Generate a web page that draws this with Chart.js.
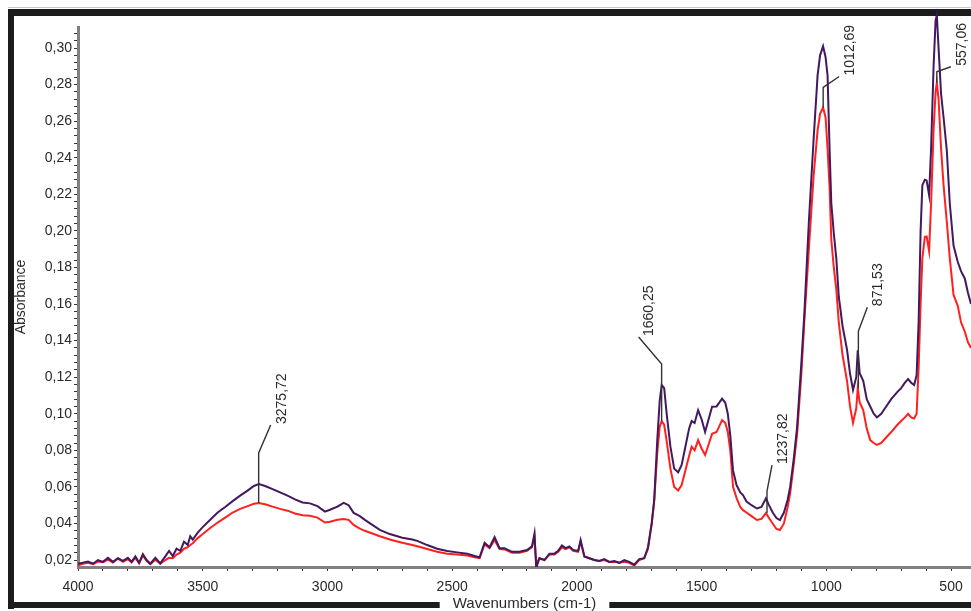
<!DOCTYPE html>
<html>
<head>
<meta charset="utf-8">
<script src="https://cdn.jsdelivr.net/npm/chart.js@4.4.1/dist/chart.umd.min.js"></script>
<style>
  html, body { margin: 0; padding: 0; background: #fff; overflow: hidden; }
  #wrap { width: 971px; height: 611px; }
</style>
</head>
<body>
<div id="wrap"><canvas id="spectrum"></canvas></div>
<script>
// wavenumbers (cm-1), shared by both spectra
const wavenumbers = [
  4000, 3980, 3960, 3940, 3920, 3900, 3880, 3860, 3840, 3820,
  3800, 3785, 3770, 3755, 3740, 3725, 3710, 3690, 3670, 3650,
  3635, 3620, 3605, 3590, 3575, 3560, 3550, 3540, 3520, 3500,
  3470, 3440, 3410, 3380, 3350, 3320, 3295, 3275, 3250, 3220,
  3190, 3160, 3130, 3100, 3070, 3040, 3010, 2990, 2960, 2935,
  2915, 2895, 2870, 2850, 2820, 2790, 2750, 2700, 2660, 2640,
  2600, 2560, 2520, 2480, 2440, 2410, 2390, 2370, 2350, 2330,
  2310, 2290, 2260, 2230, 2200, 2180, 2170, 2163, 2150, 2130,
  2110, 2090, 2075, 2060, 2045, 2030, 2015, 1995, 1985, 1970,
  1950, 1930, 1910, 1890, 1870, 1850, 1830, 1810, 1790, 1770,
  1750, 1730, 1715, 1700, 1690, 1678, 1668, 1660, 1650, 1640,
  1625, 1610, 1594, 1580, 1565, 1550, 1540, 1528, 1514, 1500,
  1486, 1470, 1458, 1440, 1418, 1405, 1395, 1385, 1374, 1360,
  1345, 1334, 1320, 1300, 1278, 1260, 1242, 1230, 1215, 1200,
  1186, 1170, 1155, 1145, 1130, 1117, 1100, 1088, 1070, 1051,
  1035, 1025, 1013, 1003, 995, 987, 980, 970, 960, 950,
  935, 917, 905, 893, 880, 874, 866, 852, 838, 824,
  810, 797, 780, 760, 740, 715, 700, 685, 672, 660,
  648, 638, 630, 622, 615, 605, 598, 588, 580, 570,
  562, 557, 550, 540, 530, 517, 505, 490, 473, 460,
  445, 432, 420
];

// upper (purple) spectrum
const absorbanceA = [
  0.0180, 0.0186, 0.0192, 0.0180, 0.0200, 0.0190, 0.0212, 0.0190, 0.0210, 0.0195,
  0.0212, 0.0190, 0.0220, 0.0185, 0.0232, 0.0200, 0.0180, 0.0212, 0.0182, 0.0220,
  0.0250, 0.0222, 0.0262, 0.0250, 0.0300, 0.0282, 0.0330, 0.0312, 0.0350, 0.0380,
  0.0420, 0.0460, 0.0490, 0.0522, 0.0552, 0.0580, 0.0605, 0.0615, 0.0605, 0.0588,
  0.0570, 0.0552, 0.0532, 0.0515, 0.0510, 0.0495, 0.0465, 0.0475, 0.0492, 0.0513,
  0.0500, 0.0458, 0.0440, 0.0420, 0.0392, 0.0365, 0.0342, 0.0322, 0.0312, 0.0305,
  0.0282, 0.0262, 0.0250, 0.0242, 0.0235, 0.0222, 0.0215, 0.0295, 0.0270, 0.0325,
  0.0265, 0.0265, 0.0245, 0.0245, 0.0255, 0.0275, 0.0345, 0.0157, 0.0210, 0.0200,
  0.0235, 0.0235, 0.0250, 0.0280, 0.0265, 0.0275, 0.0255, 0.0250, 0.0310, 0.0220,
  0.0210, 0.0200, 0.0195, 0.0205, 0.0190, 0.0195, 0.0185, 0.0200, 0.0190, 0.0175,
  0.0205, 0.0210, 0.0270, 0.0400, 0.0530, 0.0850, 0.1070, 0.1157, 0.1140, 0.1000,
  0.0820, 0.0700, 0.0680, 0.0720, 0.0820, 0.0920, 0.0960, 0.0950, 0.1020, 0.0970,
  0.0900, 0.0980, 0.1038, 0.1040, 0.1083, 0.1060, 0.1000, 0.0880, 0.0690, 0.0610,
  0.0570, 0.0555, 0.0520, 0.0500, 0.0482, 0.0490, 0.0537, 0.0500, 0.0460, 0.0430,
  0.0419, 0.0460, 0.0530, 0.0600, 0.0760, 0.0930, 0.1280, 0.1550, 0.2050, 0.2500,
  0.2850, 0.2960, 0.3010, 0.2950, 0.2850, 0.2450, 0.2150, 0.1987, 0.1850, 0.1640,
  0.1480, 0.1350, 0.1220, 0.1130, 0.1200, 0.1347, 0.1220, 0.1180, 0.1080, 0.1040,
  0.1000, 0.0980, 0.1000, 0.1040, 0.1080, 0.1120, 0.1140, 0.1170, 0.1190, 0.1170,
  0.1157, 0.1210, 0.1500, 0.2000, 0.2250, 0.2280, 0.2276, 0.2196, 0.2450, 0.2900,
  0.3150, 0.3180, 0.3000, 0.2750, 0.2620, 0.2440, 0.2150, 0.1920, 0.1830, 0.1780,
  0.1740, 0.1660, 0.1600
];

// lower (red) spectrum
const absorbanceB = [
  0.0172, 0.0180, 0.0185, 0.0178, 0.0192, 0.0188, 0.0202, 0.0186, 0.0208, 0.0190,
  0.0205, 0.0188, 0.0212, 0.0182, 0.0225, 0.0196, 0.0178, 0.0202, 0.0180, 0.0200,
  0.0212, 0.0210, 0.0230, 0.0240, 0.0262, 0.0270, 0.0282, 0.0292, 0.0320, 0.0342,
  0.0375, 0.0405, 0.0432, 0.0460, 0.0480, 0.0495, 0.0508, 0.0512, 0.0505, 0.0492,
  0.0480, 0.0470, 0.0455, 0.0445, 0.0442, 0.0432, 0.0405, 0.0410, 0.0420, 0.0425,
  0.0420, 0.0392, 0.0372, 0.0360, 0.0345, 0.0330, 0.0312, 0.0295, 0.0282, 0.0275,
  0.0260, 0.0245, 0.0235, 0.0230, 0.0225, 0.0215, 0.0210, 0.0285, 0.0265, 0.0310,
  0.0260, 0.0258, 0.0240, 0.0240, 0.0250, 0.0270, 0.0330, 0.0180, 0.0210, 0.0200,
  0.0230, 0.0230, 0.0245, 0.0270, 0.0260, 0.0270, 0.0250, 0.0245, 0.0300, 0.0220,
  0.0210, 0.0200, 0.0195, 0.0200, 0.0190, 0.0190, 0.0185, 0.0190, 0.0185, 0.0170,
  0.0200, 0.0210, 0.0260, 0.0400, 0.0520, 0.0780, 0.0930, 0.0960, 0.0940, 0.0850,
  0.0700, 0.0600, 0.0580, 0.0610, 0.0690, 0.0770, 0.0820, 0.0800, 0.0856, 0.0810,
  0.0774, 0.0840, 0.0890, 0.0900, 0.0965, 0.0950, 0.0900, 0.0800, 0.0600, 0.0540,
  0.0490, 0.0473, 0.0460, 0.0440, 0.0419, 0.0425, 0.0457, 0.0430, 0.0400, 0.0370,
  0.0364, 0.0400, 0.0490, 0.0565, 0.0730, 0.0890, 0.1220, 0.1510, 0.1900, 0.2300,
  0.2550, 0.2640, 0.2675, 0.2620, 0.2450, 0.2240, 0.1950, 0.1800, 0.1680, 0.1500,
  0.1320, 0.1180, 0.1040, 0.0950, 0.1030, 0.1140, 0.1060, 0.1020, 0.0920, 0.0856,
  0.0840, 0.0830, 0.0840, 0.0870, 0.0900, 0.0940, 0.0960, 0.0980, 0.1000, 0.0980,
  0.0974, 0.1000, 0.1250, 0.1600, 0.1850, 0.1968, 0.1970, 0.1890, 0.2150, 0.2550,
  0.2760, 0.2810, 0.2720, 0.2450, 0.2250, 0.2050, 0.1850, 0.1650, 0.1590, 0.1500,
  0.1450, 0.1390, 0.1360
];

// labelled peaks
const peakWavenumbers = [3275.72, 1660.25, 1237.82, 1012.69, 871.53, 557.06];
const peakLabels = ['3275,72', '1660,25', '1237,82', '1012,69', '871,53', '557,06'];

const FONT = "'Liberation Sans', Arial, sans-serif";
const TEXT = '#2a2a2a';

// leader line shape per peak: [vertical rise, diagonal dx, diagonal dy] in px
const leaderShape = [[50, 12, -28], [57, -23, -27], [22, 5, -26], [20, 16, -11], [57, 9, -24], [11, 14, -5]];

const frame = {
  id: 'frame',
  beforeDraw(chart) {
    const ctx = chart.ctx;
    const w = chart.width;
    ctx.save();
    ctx.fillStyle = '#fff';
    ctx.fillRect(0, 0, w, chart.height);
    ctx.fillStyle = '#c8c8c8';
    ctx.fillRect(8, 7, w - 8, 1);
    ctx.fillStyle = '#1c1c1c';
    ctx.fillRect(8, 9, 6, 600);   // left
    ctx.fillRect(8, 9, w - 8, 7);  // top
    ctx.fillRect(8, 602, w - 8, 6); // bottom
    // gap for the axis title
    const x = chart.scales.x;
    ctx.font = '15px ' + FONT;
    const tw = ctx.measureText(x.options.title.text).width;
    const cx = (x.left + x.right) / 2;
    ctx.fillStyle = '#fff';
    ctx.fillRect(cx - tw / 2 - 13, 600, tw + 26, 11);
    ctx.restore();
  }
};

const peakMarks = {
  id: 'peakMarks',
  afterDatasetsDraw(chart) {
    const ctx = chart.ctx;
    const xs = chart.scales.x, ys = chart.scales.y;
    ctx.save();
    ctx.strokeStyle = '#333';
    ctx.lineWidth = 1.4;
    ctx.fillStyle = TEXT;
    ctx.font = '14px ' + FONT;
    peakWavenumbers.forEach((wn, i) => {
      // nearest sample of the lower spectrum
      let k = 0;
      wavenumbers.forEach((v, j) => { if (Math.abs(v - wn) < Math.abs(wavenumbers[k] - wn)) k = j; });
      const px = xs.getPixelForValue(wn);
      const py = ys.getPixelForValue(absorbanceB[k]);
      const [rise, dx, dy] = leaderShape[i];
      const topY = py - rise;
      ctx.beginPath();
      ctx.moveTo(px, py);
      ctx.lineTo(px, topY);
      ctx.lineTo(px + dx, topY + dy);
      ctx.stroke();
      ctx.save();
      ctx.translate(px + dx + 11, topY + dy - 1);
      ctx.rotate(-Math.PI / 2);
      ctx.textAlign = 'left';
      ctx.textBaseline = 'middle';
      ctx.fillText(peakLabels[i], 0, 0);
      ctx.restore();
    });
    ctx.restore();
  }
};

const toPoints = arr => wavenumbers.map((w, i) => ({ x: w, y: arr[i] }));

// ticks at every multiple of `step` inside the scale range
const evenTicks = (step, digits) => s => {
  const t = [];
  for (let k = Math.ceil(s.min / step - 1e-9); k * step <= s.max + 1e-9; k++) t.push({ value: +(k * step).toFixed(digits) });
  s.ticks = t;
};

new Chart(document.getElementById('spectrum'), {
  type: 'line',
  data: {
    datasets: [
      { label: 'A', data: toPoints(absorbanceA), borderColor: '#42195e', borderWidth: 2,
        pointRadius: 0, tension: 0, clip: { left: 0, right: 0, bottom: 0, top: false } },
      { label: 'B', data: toPoints(absorbanceB), borderColor: '#ff2020', borderWidth: 2,
        pointRadius: 0, tension: 0 }
    ]
  },
  options: {
    responsive: true,
    maintainAspectRatio: false,
    animation: false,
    layout: { padding: { left: 14, top: 27, right: 0, bottom: 0 } },
    plugins: { legend: { display: false }, tooltip: { enabled: false } },
    scales: {
      x: {
        type: 'linear',
        reverse: true,
        min: 420,
        max: 4000,
        afterBuildTicks: evenTicks(100, 0),
        afterFit: s => { s.height = 44; s.paddingLeft = 0; s.paddingRight = 0; },
        border: { display: true, color: '#808080', width: 3 },
        grid: { drawOnChartArea: false, tickLength: 4, tickColor: '#333', tickWidth: 1 },
        ticks: {
          autoSkip: false,
          maxRotation: 0,
          padding: 8,
          color: TEXT,
          font: { family: FONT, size: 14 },
          callback: v => (v % 500 === 0 ? String(v) : '')
        },
        title: {
          display: true,
          text: 'Wavenumbers (cm-1)',
          color: TEXT,
          padding: { top: 0, bottom: 0 },
          font: { family: FONT, size: 15, lineHeight: 1 }
        }
      },
      y: {
        min: 0.0162,
        max: 0.3115,
        afterFit: s => { s.width = 64; },
        // one tick every 0.004, labels on every 0.02
        afterBuildTicks: evenTicks(0.004, 3),
        border: { display: true, color: '#808080', width: 3 },
        grid: { drawOnChartArea: false, tickLength: 4, tickColor: '#333', tickWidth: 1 },
        ticks: {
          autoSkip: false,
          padding: 2,
          color: TEXT,
          font: { family: FONT, size: 14 },
          callback: v => {
            const q = v / 0.02;
            return Math.abs(q - Math.round(q)) < 1e-6 ? v.toFixed(2).replace('.', ',') : '';
          }
        },
        title: {
          display: true,
          text: 'Absorbance',
          color: TEXT,
          padding: { top: 0, bottom: 0 },
          font: { family: FONT, size: 14, lineHeight: 1 }
        }
      }
    }
  },
  plugins: [frame, peakMarks]
});
</script>
</body>
</html>
